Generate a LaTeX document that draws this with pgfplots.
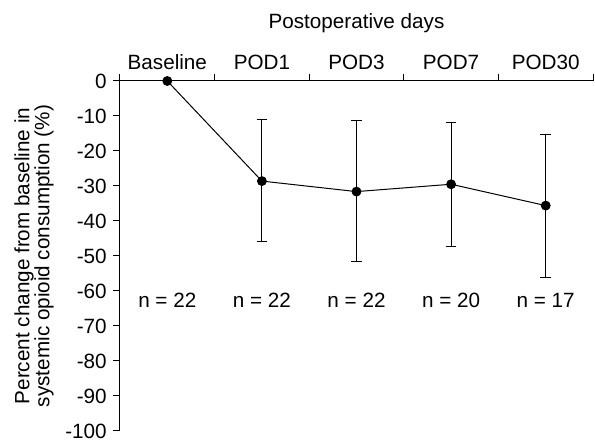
\documentclass[border=0pt]{standalone}
\usepackage{fontspec}
\setmainfont{Liberation Sans}
\usepackage{pgfplots}
\pgfplotsset{compat=1.18}
\usepackage{pgfplotstable}

% change from baseline (%), with distance to upper and lower whisker end
\pgfplotstableread{
x y ep em
0 0 0 0
1 -28.6 17.7 17.3
2 -31.6 20.2 20.0
3 -29.5 17.5 17.8
4 -35.6 20.2 20.6
}\opioid

\begin{document}
\begin{tikzpicture}[font=\fontsize{15.5}{15}\selectfont]
\useasboundingbox (-90pt,-7.5pt) rectangle (356.25pt,323.25pt);
\begin{axis}[
  scale only axis,
  width=354.75pt, height=262.5pt,
  every tick label/.append style={font=\fontsize{15.5}{15}\selectfont},
  label style={font=\fontsize{15.5}{15}\selectfont},
  yticklabel style={xshift=-1.5pt},
  axis x line=top, axis y line=left,
  axis line style={-, line width=0.75pt},
  xmin=-0.5, xmax=4.5, ymin=-100, ymax=0,
  xtick={-0.5,0.5,...,4.5},
  x tick label as interval,
  xticklabels={Baseline,POD1,POD3,POD7,POD30},
  ytick={0,-10,...,-100},
  tick align=outside,
  major tick length=5pt,
  tick style={black, line width=0.75pt},
  /pgf/number format/assume math mode=true,
  xlabel={Postoperative days},
  xlabel style={at={(axis description cs:0.5,1.165)}, anchor=center},
  ylabel={Percent change from baseline in\\systemic opioid consumption (\%)},
  ylabel style={at={(axis description cs:-0.182,0.5)}, anchor=center, align=center},
  clip=false,
]
\addplot[black, line width=0.75pt, mark=none, draw=none,
  skip coords between index={0}{1},
  error bars/.cd, y dir=both, y explicit,
  error mark options={rotate=90, mark size=4pt, line width=0.75pt},
  error bar style={line width=0.75pt}]
  table[x=x, y=y, y error plus=ep, y error minus=em] {\opioid};
\addplot[black, line width=0.75pt, mark=*, mark size=3.3pt]
  table[x=x, y=y] {\opioid};
\node at (axis cs:0,-62.6) {n = 22};
\node at (axis cs:1,-62.6) {n = 22};
\node at (axis cs:2,-62.6) {n = 22};
\node at (axis cs:3,-62.6) {n = 20};
\node at (axis cs:4,-62.6) {n = 17};
\end{axis}
\end{tikzpicture}
\end{document}
